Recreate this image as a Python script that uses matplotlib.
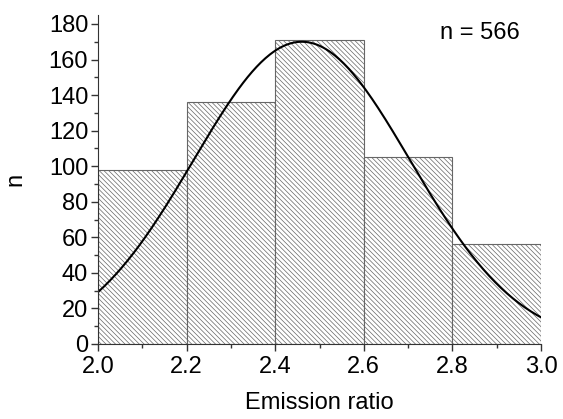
import numpy as np
import matplotlib.pyplot as plt
from matplotlib.ticker import MultipleLocator

plt.rcParams['font.family'] = ['Liberation Sans', 'DejaVu Sans']
plt.rcParams['hatch.linewidth'] = 0.5

# Histogram data
bin_edges = [2.0, 2.2, 2.4, 2.6, 2.8, 3.0]
counts = [98, 136, 171, 105, 56]

# Gaussian fit parameters
amp = 170.0
mu = 2.46
sigma = 0.245

fig = plt.figure(figsize=(5.63, 4.19), dpi=100)
ax = fig.add_axes([0.174, 0.179, 0.787, 0.785])

left = np.array(bin_edges[:-1])
width = np.diff(bin_edges)
ax.bar(left, counts, width=width, align='edge', color='white',
       edgecolor='#666666', linewidth=0.8, hatch='\\' * 7)

x = np.linspace(2.0, 3.0, 300)
y = amp * np.exp(-(x - mu) ** 2 / (2 * sigma ** 2))
ax.plot(x, y, color='black', linewidth=1.5)

ax.set_xlim(2.0, 3.0)
ax.set_ylim(0, 185)
ax.xaxis.set_major_locator(MultipleLocator(0.2))
ax.xaxis.set_minor_locator(MultipleLocator(0.1))
ax.yaxis.set_major_locator(MultipleLocator(20))
ax.yaxis.set_minor_locator(MultipleLocator(10))
ax.xaxis.set_major_formatter(plt.FormatStrFormatter('%.1f'))

ax.spines['top'].set_visible(False)
ax.spines['right'].set_visible(False)
for s in ax.spines.values():
    s.set_color('#333333')
ax.tick_params(which='major', direction='out', length=5, width=1, labelsize=17,
               color='#333333')
ax.tick_params(axis='y', which='major', pad=2)
ax.tick_params(axis='x', which='major', pad=4)
ax.tick_params(which='minor', direction='out', length=3, width=1, color='#333333')

ax.set_xlabel('Emission ratio', fontsize=17, labelpad=10)
ax.set_ylabel('n', fontsize=17, labelpad=16)
ax.text(0.953, 0.945, 'n = 566', transform=ax.transAxes, fontsize=17,
        ha='right', va='center')

fig.savefig('out.png', dpi=100)
